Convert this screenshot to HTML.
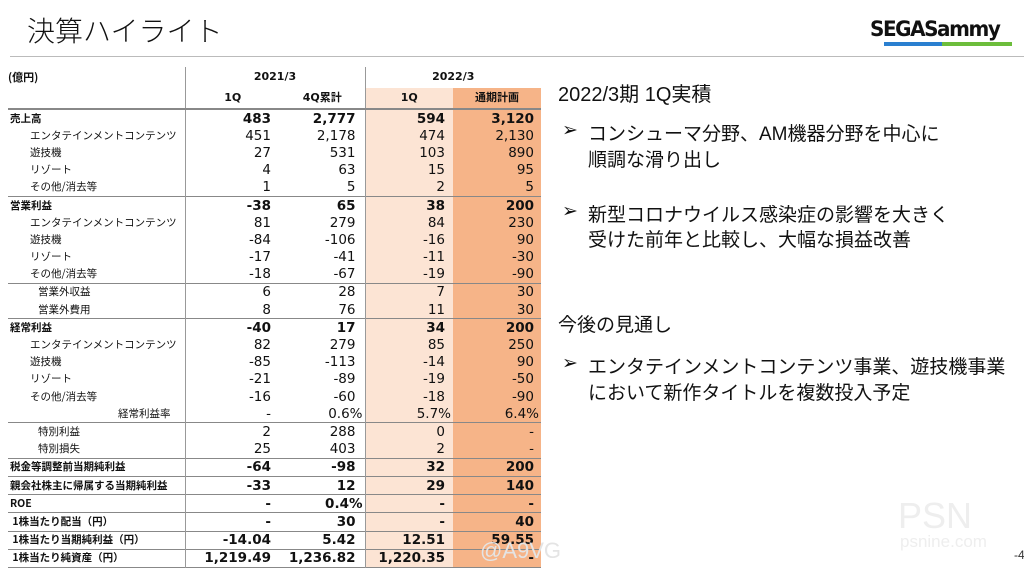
<!DOCTYPE html>
<html><head><meta charset="utf-8"><style>
body{margin:0;width:1024px;height:572px;background:#fff;position:relative;overflow:hidden;font-family:"Liberation Sans","Noto Sans CJK JP",sans-serif;color:#111}
.a{position:absolute;white-space:nowrap}
table{position:absolute;left:8px;top:67px;border-collapse:collapse;table-layout:fixed}
tr{height:17.2px}
td{padding:0;height:17.2px;font-family:"DejaVu Sans","Noto Sans CJK JP",sans-serif;font-size:13.5px;text-align:right;padding-right:9px;line-height:14px;overflow:hidden;white-space:nowrap;vertical-align:middle}
td.l{text-align:left;font-family:"Noto Sans CJK JP",sans-serif;font-size:10.5px;padding-left:2px;padding-right:0;line-height:12px}
td.c3{background:#fce4d4;padding-right:8px}
td.c4{background:#f6b488;padding-right:7px}
td.v1{border-left:1px solid #999}
tr.b td{font-weight:bold}
tr.t td{border-top:1px solid #888}
.i1{padding-left:22px!important}
.i2{padding-left:30px!important}
tr.h{height:20.5px}
tr.h td{font-size:11px;font-weight:bold;text-align:center;padding:0;height:20.5px}
.r{font-size:19px}
</style></head><body>
<div class="a" style="left:27px;top:10px;font-size:28px;font-family:'Noto Sans CJK JP',sans-serif;font-weight:300;">決算ハイライト</div>
<div class="a" style="left:10px;top:56px;width:1014px;height:1px;background:#bbb"></div>
<div class="a" style="left:870px;top:17px;font-family:'DejaVu Sans',sans-serif;font-weight:bold;font-size:21px;letter-spacing:-1.5px;color:#111;transform:scaleX(0.95);transform-origin:left">SEGASammy</div>
<div class="a" style="left:884px;top:42px;width:58px;height:4px;background:#2a7fd0"></div>
<div class="a" style="left:942px;top:42px;width:70px;height:4px;background:#6cbd3b"></div>

<table>
<colgroup><col style="width:177px"><col style="width:95px"><col style="width:85px"><col style="width:88px"><col style="width:88px"></colgroup>
<tr class="h"><td class="l" style="font-weight:bold;text-align:left">(億円)</td><td class="v1" colspan="2">2021/3</td><td class="v1" colspan="2">2022/3</td></tr>
<tr class="h"><td></td><td class="v1">1Q</td><td>4Q累計</td><td class="v1 c3">1Q</td><td class="c4">通期計画</td></tr>
<tr class="b t" style="border-top:2px solid #888"><td class="l">売上高</td><td class="v1">483</td><td>2,777</td><td class="v1 c3">594</td><td class="c4">3,120</td></tr>
<tr><td class="l i1">エンタテインメントコンテンツ</td><td class="v1">451</td><td>2,178</td><td class="v1 c3">474</td><td class="c4">2,130</td></tr>
<tr><td class="l i1">遊技機</td><td class="v1">27</td><td>531</td><td class="v1 c3">103</td><td class="c4">890</td></tr>
<tr><td class="l i1">リゾート</td><td class="v1">4</td><td>63</td><td class="v1 c3">15</td><td class="c4">95</td></tr>
<tr><td class="l i1">その他/消去等</td><td class="v1">1</td><td>5</td><td class="v1 c3">2</td><td class="c4">5</td></tr>
<tr class="b t"><td class="l">営業利益</td><td class="v1">-38</td><td>65</td><td class="v1 c3">38</td><td class="c4">200</td></tr>
<tr><td class="l i1">エンタテインメントコンテンツ</td><td class="v1">81</td><td>279</td><td class="v1 c3">84</td><td class="c4">230</td></tr>
<tr><td class="l i1">遊技機</td><td class="v1">-84</td><td>-106</td><td class="v1 c3">-16</td><td class="c4">90</td></tr>
<tr><td class="l i1">リゾート</td><td class="v1">-17</td><td>-41</td><td class="v1 c3">-11</td><td class="c4">-30</td></tr>
<tr><td class="l i1">その他/消去等</td><td class="v1">-18</td><td>-67</td><td class="v1 c3">-19</td><td class="c4">-90</td></tr>
<tr class="t"><td class="l i2">営業外収益</td><td class="v1">6</td><td>28</td><td class="v1 c3">7</td><td class="c4">30</td></tr>
<tr><td class="l i2">営業外費用</td><td class="v1">8</td><td>76</td><td class="v1 c3">11</td><td class="c4">30</td></tr>
<tr class="b t"><td class="l">経常利益</td><td class="v1">-40</td><td>17</td><td class="v1 c3">34</td><td class="c4">200</td></tr>
<tr><td class="l i1">エンタテインメントコンテンツ</td><td class="v1">82</td><td>279</td><td class="v1 c3">85</td><td class="c4">250</td></tr>
<tr><td class="l i1">遊技機</td><td class="v1">-85</td><td>-113</td><td class="v1 c3">-14</td><td class="c4">90</td></tr>
<tr><td class="l i1">リゾート</td><td class="v1">-21</td><td>-89</td><td class="v1 c3">-19</td><td class="c4">-50</td></tr>
<tr><td class="l i1">その他/消去等</td><td class="v1">-16</td><td>-60</td><td class="v1 c3">-18</td><td class="c4">-90</td></tr>
<tr><td class="l" style="padding-left:110px">経常利益率</td><td class="v1">-</td><td style="padding-right:2px">0.6%</td><td class="v1 c3" style="padding-right:2px">5.7%</td><td class="c4" style="padding-right:2px">6.4%</td></tr>
<tr class="t"><td class="l i2">特別利益</td><td class="v1">2</td><td>288</td><td class="v1 c3">0</td><td class="c4">-</td></tr>
<tr><td class="l i2">特別損失</td><td class="v1">25</td><td>403</td><td class="v1 c3">2</td><td class="c4">-</td></tr>
<tr class="b t"><td class="l">税金等調整前当期純利益</td><td class="v1">-64</td><td>-98</td><td class="v1 c3">32</td><td class="c4">200</td></tr>
<tr class="b t"><td class="l">親会社株主に帰属する当期純利益</td><td class="v1">-33</td><td>12</td><td class="v1 c3">29</td><td class="c4">140</td></tr>
<tr class="b t"><td class="l">ROE</td><td class="v1">-</td><td style="padding-right:2px">0.4%</td><td class="v1 c3">-</td><td class="c4">-</td></tr>
<tr class="b t"><td class="l">&nbsp;1株当たり配当（円）</td><td class="v1">-</td><td>30</td><td class="v1 c3">-</td><td class="c4">40</td></tr>
<tr class="b t"><td class="l">&nbsp;1株当たり当期純利益（円）</td><td class="v1">-14.04</td><td>5.42</td><td class="v1 c3">12.51</td><td class="c4">59.55</td></tr>
<tr class="b t" style="border-bottom:1px solid #888"><td class="l">&nbsp;1株当たり純資産（円）</td><td class="v1">1,219.49</td><td>1,236.82</td><td class="v1 c3">1,220.35</td><td class="c4">-</td></tr>
</table>

<div class="a" style="left:558px;top:78px;font-size:20px">2022/3期 1Q実積</div>
<div class="a r" style="left:562px;top:119px">➢</div>
<div class="a r" style="left:588px;top:119px">コンシューマ分野、AM機器分野を中心に</div>
<div class="a r" style="left:588px;top:145px">順調な滑り出し</div>
<div class="a r" style="left:562px;top:200px">➢</div>
<div class="a r" style="left:588px;top:200px">新型コロナウイルス感染症の影響を大きく</div>
<div class="a r" style="left:588px;top:225px">受けた前年と比較し、大幅な損益改善</div>
<div class="a r" style="left:558px;top:310px">今後の見通し</div>
<div class="a r" style="left:562px;top:352px">➢</div>
<div class="a r" style="left:588px;top:352px">エンタテインメントコンテンツ事業、遊技機事業</div>
<div class="a r" style="left:588px;top:378px">において新作タイトルを複数投入予定</div>
<div class="a" style="left:480px;top:538px;font-size:22px;color:#e4e4e4">@A9VG</div>
<div class="a" style="left:898px;top:495px;font-size:36px;color:#eee">PSN</div>
<div class="a" style="left:900px;top:532px;font-size:17px;color:#eee">psnine.com</div>
<div class="a" style="left:1014px;top:548px;font-size:12px;color:#333">-4</div>
</body></html>
